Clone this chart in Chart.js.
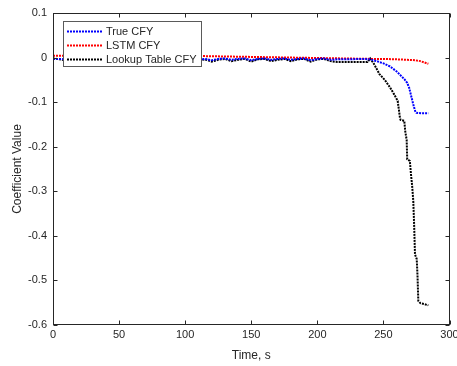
<!DOCTYPE html>
<html>
<head>
<meta charset="utf-8">
<script src="https://cdn.jsdelivr.net/npm/chart.js@4.4.0/dist/chart.umd.min.js"></script>
<style>
  html, body { margin: 0; padding: 0; background: #fff; }
  #wrap { width: 457px; height: 366px; }
</style>
</head>
<body>
<div id="wrap"><canvas id="cfyChart" width="457" height="366"></canvas></div>
<script>
// tick labels
const xTicks = [0, 50, 100, 150, 200, 250, 300];
const yTicks = [0.1, 0, -0.1, -0.2, -0.3, -0.4, -0.5, -0.6];

// series (time in s, coefficient values)
const trueTime = [0, 5, 10, 15, 20, 25, 30, 35, 40, 45, 50, 55, 60, 65, 70, 75, 80, 85, 90, 95,
  100, 105, 110, 115, 120, 125, 130, 135, 140, 145, 150, 155, 160, 165, 170, 175, 180, 185, 190, 195,
  200, 205, 210, 215, 220, 225, 230, 235, 240, 245, 250, 255, 260, 263, 266, 268, 269.5, 271, 272.5,
  274, 275, 279, 284];
const trueCfy = [-0.003, -0.003, -0.004, -0.003, -0.004, -0.003, -0.005, -0.003, -0.004, -0.003,
  -0.005, -0.003, -0.004, -0.003, -0.005, -0.003, -0.004, -0.003, -0.005, -0.003,
  -0.004, -0.003, -0.005, -0.003, -0.006, -0.003, -0.002, -0.005, -0.003, -0.002,
  -0.006, -0.003, -0.002, -0.005, -0.003, -0.002, -0.005, -0.003, -0.002, -0.006,
  -0.003, -0.002, -0.005, -0.004, -0.004, -0.004, -0.003, -0.003, -0.004, -0.008,
  -0.013, -0.02, -0.031, -0.04, -0.049, -0.057, -0.068, -0.086, -0.104, -0.12,
  -0.124, -0.125, -0.125];

const lstmTime = [0, 20, 40, 60, 80, 100, 120, 140, 160, 180, 200, 220, 240, 250, 260, 268, 274, 278, 281, 284];
const lstmCfy = [0.004, 0.004, 0.004, 0.004, 0.004, 0.004, 0.003, 0.002, 0.001, 0.0,
  -0.001, -0.002, -0.003, -0.003, -0.004, -0.005, -0.006, -0.008, -0.011, -0.014];

const lookupTime = [0, 5, 10, 15, 20, 25, 30, 35, 40, 45, 50, 55, 60, 65, 70, 75, 80, 85, 90, 95,
  100, 105, 110, 115, 120, 125, 130, 135, 140, 145, 150, 155, 160, 165, 170, 175, 180, 185, 190, 195,
  200, 205, 210, 215, 220, 225, 230, 235, 238, 240, 243, 247, 251, 255, 258, 260.8, 262.5, 263,
  265.8, 266.5, 267.6, 268, 270, 270.8, 271.8, 272.6, 273.3, 273.9, 275.2, 275.8, 276.4, 278, 281, 284];
const lookupCfy = [-0.002, -0.004, -0.006, -0.003, -0.007, -0.004, -0.008, -0.004, -0.006, -0.003,
  -0.007, -0.004, -0.008, -0.004, -0.006, -0.003, -0.007, -0.004, -0.008, -0.004,
  -0.006, -0.003, -0.007, -0.004, -0.009, -0.005, -0.003, -0.008, -0.005, -0.003,
  -0.009, -0.004, -0.003, -0.008, -0.005, -0.003, -0.008, -0.004, -0.003, -0.009,
  -0.004, -0.003, -0.008, -0.01, -0.01, -0.01, -0.01, -0.01, -0.01, -0.002,
  -0.015, -0.037, -0.05, -0.067, -0.082, -0.097, -0.135, -0.14,
  -0.142, -0.165, -0.185, -0.228, -0.232, -0.26, -0.29, -0.322, -0.38, -0.442,
  -0.452, -0.49, -0.546, -0.551, -0.553, -0.556];

const toPoints = (t, v) => t.map((x, i) => ({ x: x, y: v[i] }));

const axisColor = '#262626';
const fontFamily = "'Liberation Sans', Arial, Helvetica, sans-serif";

// MATLAB-like box with inward ticks plus the legend inside the axes
const frameBox = {
  id: 'frameBox',
  afterDatasetsDraw(chart) {
    const { ctx, chartArea: a, scales: { x, y } } = chart;
    const L = Math.round(a.left) + 0.5, R = Math.round(a.right) - 0.5;
    const T = Math.round(a.top) + 0.5, B = Math.round(a.bottom) - 0.5;
    const tl = 4;
    ctx.save();
    ctx.strokeStyle = axisColor;
    ctx.lineWidth = 1;
    ctx.strokeRect(L, T, R - L, B - T);
    ctx.beginPath();
    xTicks.forEach(v => {
      const px = Math.round(x.getPixelForValue(v)) + 0.5;
      ctx.moveTo(px, B); ctx.lineTo(px, B - tl);
      ctx.moveTo(px, T); ctx.lineTo(px, T + tl);
    });
    yTicks.forEach(v => {
      const py = Math.round(y.getPixelForValue(v)) + 0.5;
      ctx.moveTo(L, py); ctx.lineTo(L + tl, py);
      ctx.moveTo(R, py); ctx.lineTo(R - tl, py);
    });
    ctx.stroke();

    // legend
    const bx = 63.5, by = 21.5, bw = 138, bh = 45;
    ctx.fillStyle = '#fff';
    ctx.fillRect(bx, by, bw, bh);
    ctx.strokeStyle = '#5a5a5a';
    ctx.strokeRect(bx, by, bw, bh);
    ctx.font = '11px ' + fontFamily;
    ctx.textBaseline = 'middle';
    ctx.textAlign = 'left';
    chart.data.datasets.forEach((ds, i) => {
      const ry = 31.5 + i * 14;
      ctx.strokeStyle = ds.borderColor;
      ctx.lineWidth = 2;
      ctx.setLineDash([2, 1]);
      ctx.beginPath();
      ctx.moveTo(67, ry); ctx.lineTo(102, ry);
      ctx.stroke();
      ctx.setLineDash([]);
      ctx.fillStyle = axisColor;
      ctx.fillText(ds.label, 106, ry);
    });
    ctx.restore();
  }
};

new Chart(document.getElementById('cfyChart'), {
  type: 'line',
  data: {
    datasets: [
      { label: 'True CFY', data: toPoints(trueTime, trueCfy), borderColor: '#0000ff' },
      { label: 'LSTM CFY', data: toPoints(lstmTime, lstmCfy), borderColor: '#ff0000' },
      { label: 'Lookup Table CFY', data: toPoints(lookupTime, lookupCfy), borderColor: '#000000' }
    ]
  },
  options: {
    responsive: false,
    animation: false,
    devicePixelRatio: 1,
    datasets: { line: { borderWidth: 2, borderDash: [2, 1], pointRadius: 0, tension: 0, fill: false } },
    layout: { padding: { top: 13, right: 7.5, left: 0, bottom: 0 } },
    plugins: { legend: { display: false }, tooltip: { enabled: false } },
    scales: {
      x: {
        type: 'linear', min: 0, max: 300,
        grid: { display: false, drawTicks: false },
        border: { display: false },
        afterBuildTicks: s => { s.ticks = xTicks.map(v => ({ value: v })); },
        afterFit: s => { s.height = 41; s.paddingLeft = 0; s.paddingRight = 0; },
        ticks: { padding: 3, color: axisColor, maxRotation: 0, font: { family: fontFamily, size: 11 } },
        title: { display: true, text: 'Time, s', color: axisColor, padding: { top: 0, bottom: 3 }, font: { family: fontFamily, size: 12 } }
      },
      y: {
        type: 'linear', min: -0.6, max: 0.1,
        grid: { display: false, drawTicks: false },
        border: { display: false },
        afterBuildTicks: s => { s.ticks = yTicks.map(v => ({ value: v })); },
        afterFit: s => { s.width = 53; s.paddingTop = 0; s.paddingBottom = 0; },
        ticks: { padding: 6, color: axisColor, font: { family: fontFamily, size: 11 },
          callback: v => String(Math.round(v * 10) / 10) },
        title: { display: true, text: 'Coefficient Value', color: axisColor, padding: { top: 10, bottom: 0 }, font: { family: fontFamily, size: 12 } }
      }
    }
  },
  plugins: [frameBox]
});
</script>
</body>
</html>
